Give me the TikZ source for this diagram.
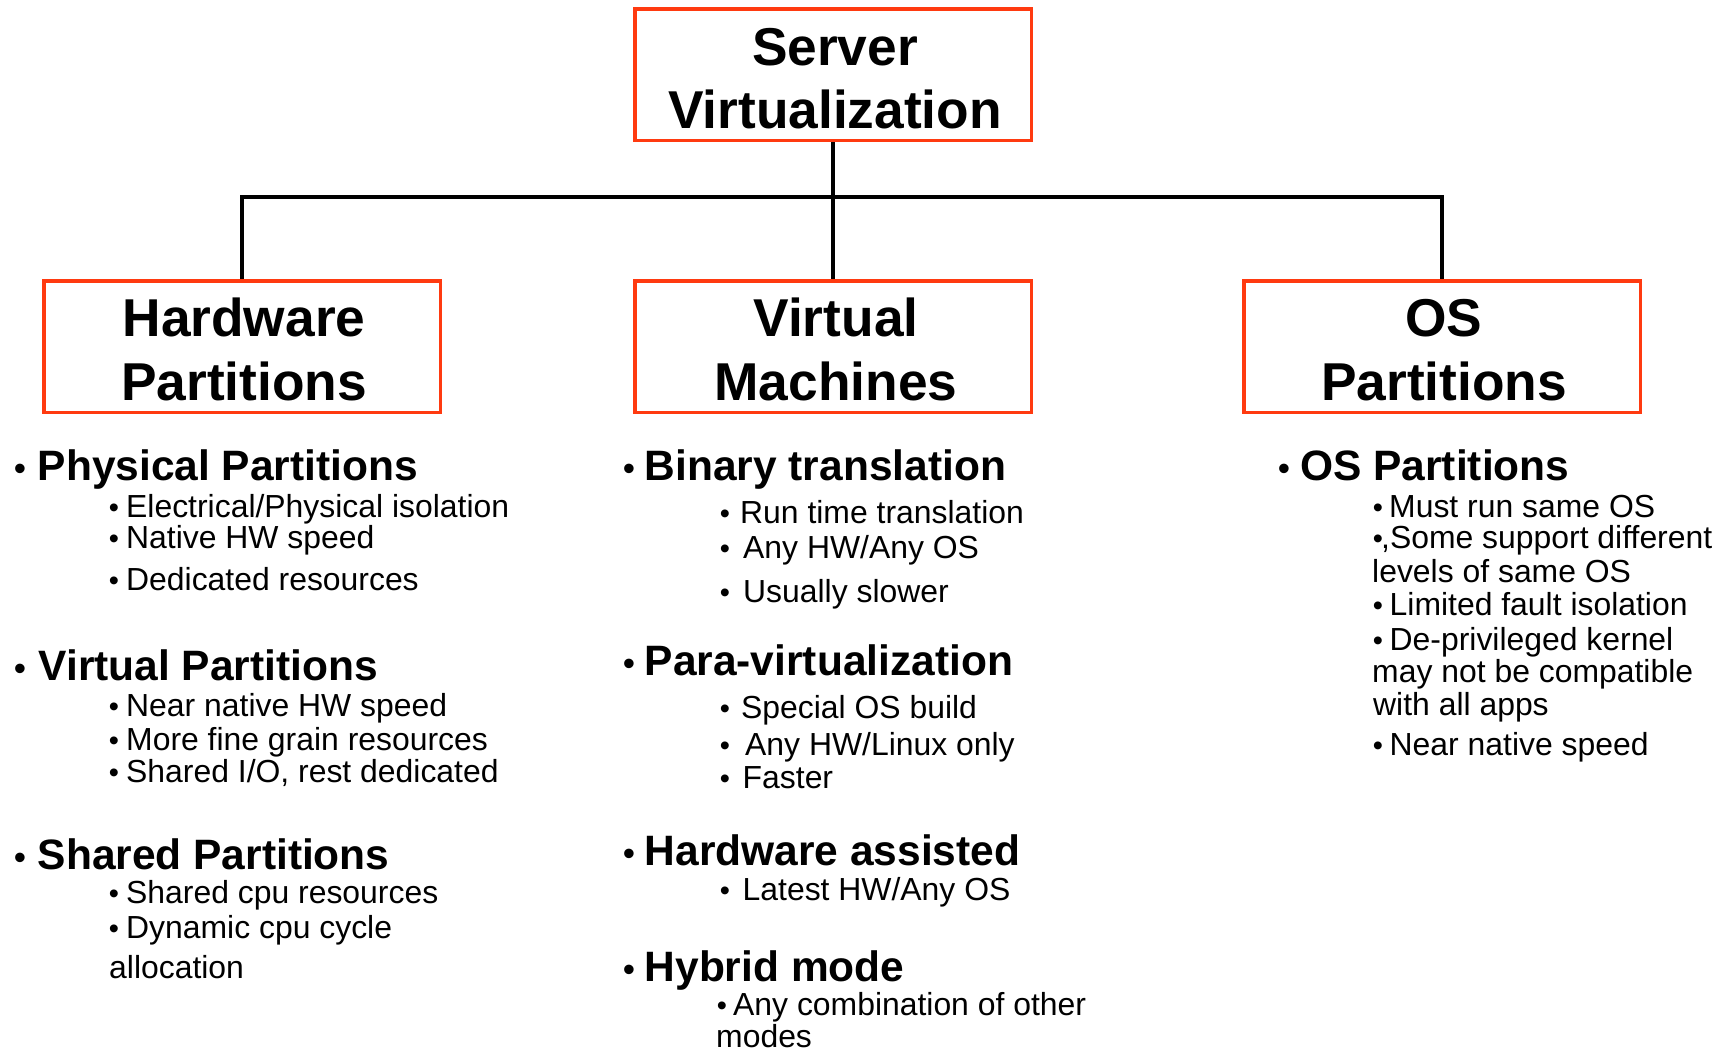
\documentclass[tikz,border=0pt]{standalone}
\usepackage{fontspec}
\setmainfont{Liberation Sans}
\definecolor{boxred}{HTML}{FF3A10}
\tikzset{
  box/.style={draw=boxred, line width=3.5pt, minimum width=396.5pt,
              minimum height=131.5pt, inner sep=0pt},
  ttl/.style={font=\fontsize{53.3}{60}\selectfont\bfseries, anchor=base, inner sep=0pt},
  head/.style={font=\fontsize{42.5}{50}\selectfont\bfseries, inner sep=0pt},
  item/.style={font=\fontsize{31.9}{38}\selectfont, inner sep=0pt},
  headdot/.style={font=\fontsize{35}{40}\selectfont, inner sep=0pt},
  itemdot/.style={font=\fontsize{29}{34}\selectfont, inner sep=0pt},
  link/.style={line width=4pt, black},
}
% bulleted line: name, style, bullet x, text x, baseline y, text
\newcommand\bulletline[6]{%
  \node[#2dot, anchor=base] (#1b) at (#3,#5) {\textbullet};
  \node[#2, anchor=base west] (#1) at (#4,#5) {#6};}
% continuation line: name, style, x, baseline y, text
\newcommand\plainline[5]{%
  \node[#2, anchor=base west] (#1) at (#3,#4) {#5};}
\begin{document}
\begin{tikzpicture}[x=1pt, y=-1pt]
\useasboundingbox[fill=white] (0,0) rectangle (1730,1053);

% category boxes
\node[box] (top) at (833,74.5) {};
\node[box] (hw)  at (242,346.5) {};
\node[box] (mid) at (833,346.5) {};
\node[box] (os)  at (1442,346.5) {};

\node[ttl] (top1) at (835,65)  {Server};
\node[ttl] (top2) at (835,128) {Virtualization};
\node[ttl] (hw1)  at (244,336) {Hardware};
\node[ttl] (hw2)  at (244,400) {Partitions};
\node[ttl] (mid1) at (836,336) {Virtual};
\node[ttl] (mid2) at (836,400) {Machines};
\node[ttl] (os1)  at (1444,336) {OS};
\node[ttl] (os2)  at (1444,400) {Partitions};

% tree connectors
\coordinate (bar) at (833,197);
\draw[link] (top.south) -- (mid.north);
\draw[link] (hw.north) |- (bar) -| (os.north);

% hardware partitions column
\bulletline{a1}{head}{20}{37.5}{480}{Physical Partitions}
\bulletline{a11}{item}{114}{126}{517}{Electrical/Physical isolation}
\bulletline{a12}{item}{114}{126}{548}{Native HW speed}
\bulletline{a13}{item}{114}{126}{590}{Dedicated resources}
\bulletline{a2}{head}{20}{38.5}{680}{Virtual Partitions}
\bulletline{a21}{item}{114}{126}{716}{Near native HW speed}
\bulletline{a22}{item}{114}{126}{750}{More fine grain resources}
\bulletline{a23}{item}{114}{126}{782}{Shared I/O, rest dedicated}
\bulletline{a3}{head}{20}{37.5}{869}{Shared Partitions}
\bulletline{a31}{item}{114}{126}{903}{Shared cpu resources}
\bulletline{a32}{item}{114}{126}{938}{Dynamic cpu cycle}
\plainline{a33}{item}{109}{978}{allocation}

% virtual machines column
\bulletline{b1}{head}{629}{644.5}{480}{Binary translation}
\bulletline{b11}{item}{725}{740}{523}{Run time translation}
\bulletline{b12}{item}{725}{743}{558}{Any HW/Any OS}
\bulletline{b13}{item}{725}{743}{602}{Usually slower}
\bulletline{b2}{head}{629}{644.5}{675}{Para-virtualization}
\bulletline{b21}{item}{725}{741}{718}{Special OS build}
\bulletline{b22}{item}{725}{745}{755}{Any HW/Linux only}
\bulletline{b23}{item}{725}{742.5}{788}{Faster}
\bulletline{b3}{head}{629}{644.5}{865}{Hardware assisted}
\bulletline{b31}{item}{725}{742.5}{900}{Latest HW/Any OS}
\bulletline{b4}{head}{629}{644.5}{981}{Hybrid mode}
\bulletline{b41}{item}{722}{733}{1015}{Any combination of other}
\plainline{b42}{item}{716}{1047}{modes}

% OS partitions column
\bulletline{c1}{head}{1284}{1300}{480}{OS Partitions}
\bulletline{c11}{item}{1378}{1389}{517}{Must run same OS}
\bulletline{c12}{item}{1378}{1381}{548}{,Some support different}
\plainline{c13}{item}{1372}{582}{levels of same OS}
\bulletline{c14}{item}{1378}{1389.5}{615}{Limited fault isolation}
\bulletline{c15}{item}{1378}{1389.5}{650}{De-privileged kernel}
\plainline{c16}{item}{1372}{682}{may not be compatible}
\plainline{c17}{item}{1373}{715}{with all apps}
\bulletline{c18}{item}{1378}{1389.5}{755}{Near native speed}
\end{tikzpicture}
\end{document}
